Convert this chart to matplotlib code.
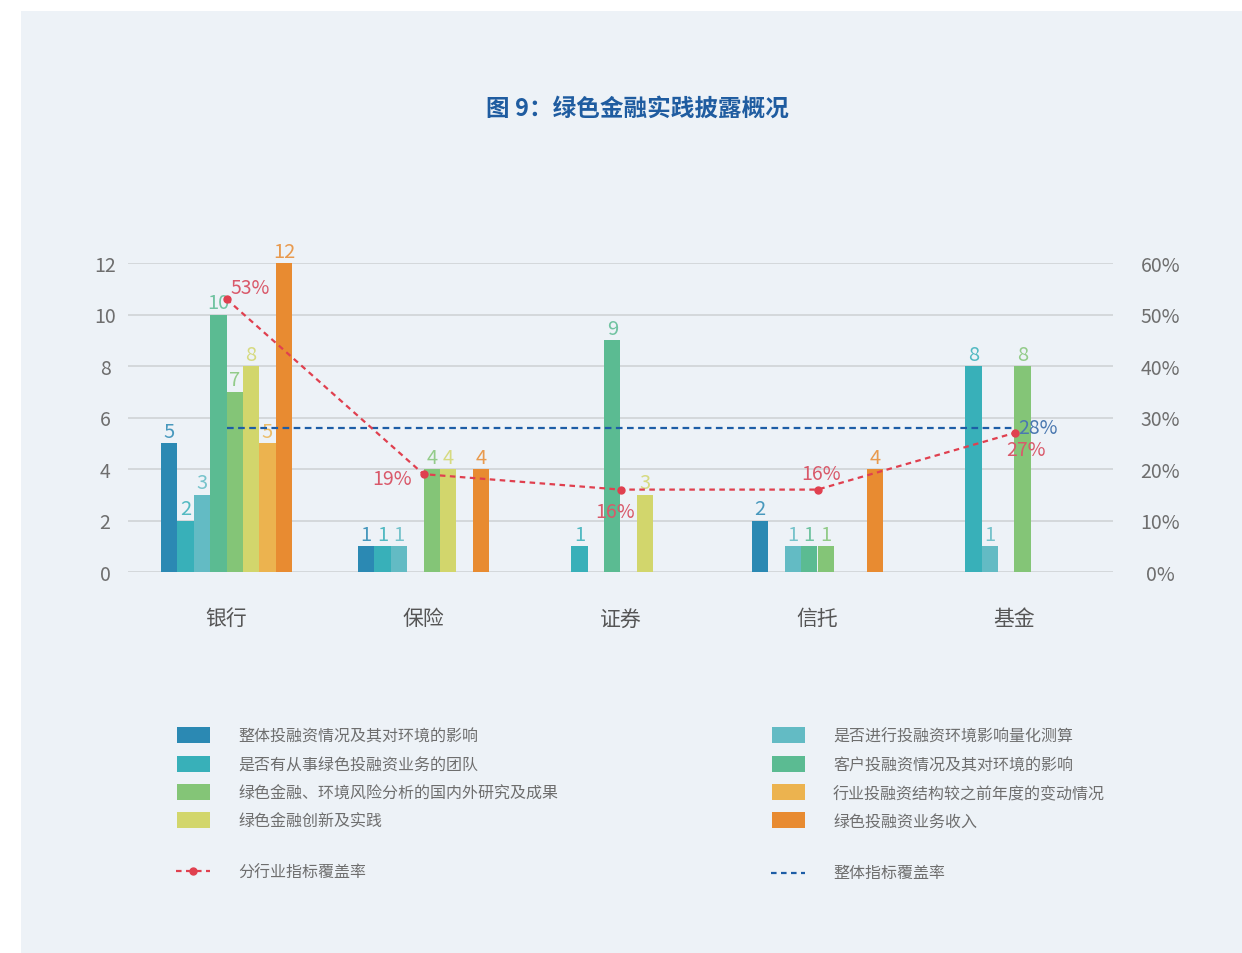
import numpy as np
import matplotlib.pyplot as plt
from matplotlib.patches import Rectangle
from matplotlib.lines import Line2D

plt.rcParams['font.family'] = ['Noto Sans CJK SC', 'DejaVu Sans']
plt.rcParams['font.weight'] = 'light'

# categories and series
categories = ['银行', '保险', '证券', '信托', '基金']
series_names = ['整体投融资情况及其对环境的影响',
                '是否有从事绿色投融资业务的团队',
                '是否进行投融资环境影响量化测算',
                '客户投融资情况及其对环境的影响',
                '绿色金融、环境风险分析的国内外研究及成果',
                '绿色金融创新及实践',
                '行业投融资结构较之前年度的变动情况',
                '绿色投融资业务收入']
s1 = [5, 1, 0, 2, 0]
s2 = [2, 1, 1, 0, 8]
s3 = [3, 1, 0, 1, 1]
s4 = [10, 0, 9, 1, 0]
s5 = [7, 4, 0, 1, 8]
s6 = [8, 4, 3, 0, 0]
s7 = [5, 0, 0, 0, 0]
s8 = [12, 4, 0, 4, 0]
coverage = [53, 19, 16, 16, 27]   # 分行业指标覆盖率 (%)
overall = 28                       # 整体指标覆盖率 (%)

colors = ['#2b89b3', '#38b0b9', '#63bbc4', '#5bbb92',
          '#84c577', '#d2d66c', '#ecb34f', '#e88b31']
bg = '#edf2f7'
red = '#e0404f'
blue = '#1d5da6'
grey = '#6e6e6e'

W, H = 1242, 954
fig = plt.figure(figsize=(W / 100, H / 100), dpi=100)
fig.patch.set_facecolor('white')
fig.add_artist(Rectangle((21 / W, 0), 1 - 21 / W, 1 - 12 / H,
                         transform=fig.transFigure, facecolor=bg,
                         edgecolor='none', zorder=-10))

ax = fig.add_axes([128 / W, 1 - 573 / H, 985 / W, (573 - 264) / H])
ax.set_facecolor('none')
x = np.arange(len(categories))
w = 0.0833
data = [s1, s2, s3, s4, s5, s6, s7, s8]
for i, vals in enumerate(data):
    pos = x + (i - 3.5) * w
    ax.bar(pos, vals, width=w, color=colors[i], linewidth=0, zorder=3)
    for p, v in zip(pos, vals):
        if v > 0:
            ax.text(p, v + 0.05, str(v), ha='center', va='bottom',
                    fontsize=14.5, color=colors[i], alpha=0.85, zorder=5)

ax.set_xlim(-0.5, 4.5)
ax.set_ylim(0, 12)
ax.set_yticks(range(0, 13, 2))
ax.yaxis.grid(True, color='#cfd3d6', linewidth=1.2, zorder=0)
ax.set_xticks([])
for s in ax.spines.values():
    s.set_visible(False)
ax.tick_params(axis='y', length=0, labelsize=14, labelcolor=grey, pad=16.5)
for lab in ax.get_yticklabels():
    lab.set_horizontalalignment('center')

for xi, c in zip(x, categories):
    ax.text(xi, -1.8, c, ha='center', va='center', fontsize=15, color='#555555')

ax2 = ax.twinx()
ax2.set_ylim(0, 60)
ax2.set_yticks(range(0, 61, 10))
ax2.set_yticklabels(['%d%%' % t for t in range(0, 61, 10)])
ax2.tick_params(axis='y', length=0, labelsize=14, labelcolor=grey, pad=34)
for lab in ax2.get_yticklabels():
    lab.set_horizontalalignment('center')
for s in ax2.spines.values():
    s.set_visible(False)

ax2.plot([x[0], x[-1]], [overall, overall], color=blue, lw=1.6,
         linestyle=(0, (3, 2)), zorder=6)
ax2.plot(x, coverage, color=red, lw=1.6, linestyle=(0, (2.5, 2)),
         marker='o', markersize=5, zorder=7)

pct_color = '#d9596a'
offsets = [(0.02, 2.2, 'left'), (-0.06, -0.9, 'right'), (-0.03, -4.3, 'center'),
           (0.02, 3.2, 'center'), (0.06, -3.2, 'center')]
for xi, v, (dx, dy, ha) in zip(x, coverage, offsets):
    ax2.text(xi + dx, v + dy, '%d%%' % v, ha=ha, va='center',
             fontsize=14, color=pct_color, zorder=8)
ax2.text(x[-1] + 0.02, overall, '%d%%' % overall, ha='left', va='center',
         fontsize=14, color='#4a78b0', zorder=8)

# legend drawn in pixel space
lg = fig.add_axes([0, 0, 1, 1], zorder=10)
lg.set_xlim(0, W)
lg.set_ylim(H, 0)
lg.axis('off')
rows = [736, 765, 793, 821]
left_idx = [0, 1, 4, 5]
right_idx = [2, 3, 6, 7]
for r, i in zip(rows, left_idx):
    lg.add_patch(Rectangle((177, r - 8), 33, 16, color=colors[i], lw=0))
    lg.text(238, r + 1.5, series_names[i], va='center', fontsize=11.5, color=grey)
for r, i in zip(rows, right_idx):
    lg.add_patch(Rectangle((772, r - 8), 33, 16, color=colors[i], lw=0))
    lg.text(833, r + 1.5, series_names[i], va='center', fontsize=11.5, color=grey)
lg.add_line(Line2D([176, 210], [872, 872], color=red, lw=1.6,
                   linestyle=(0, (2.5, 2))))
lg.plot([193], [872], 'o', color=red, markersize=5)
lg.text(238, 873, '分行业指标覆盖率', va='center', fontsize=11.5, color=grey)
lg.add_line(Line2D([771, 805], [874, 874], color=blue, lw=1.6,
                   linestyle=(0, (2.5, 2))))
lg.text(833, 873, '整体指标覆盖率', va='center', fontsize=11.5, color=grey)

lg.text(637, 109, '图 9：绿色金融实践披露概况', ha='center', va='center',
        fontsize=17, fontweight='bold', color='#1f5ca0')

fig.savefig('out.png', dpi=100, facecolor=fig.get_facecolor())
